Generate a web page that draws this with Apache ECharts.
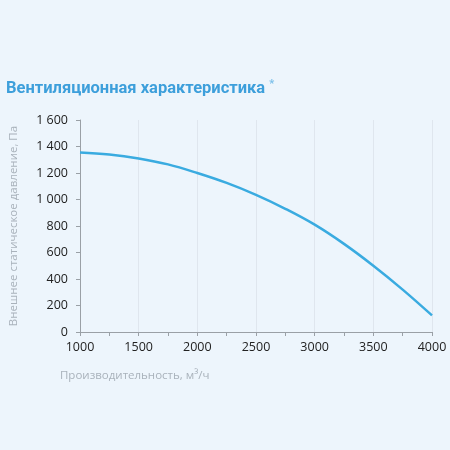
<!DOCTYPE html>
<html><head><meta charset="utf-8">
<script src="https://cdn.jsdelivr.net/npm/echarts@6/dist/echarts.min.js"></script>
<style>html,body{margin:0;padding:0;background:#edf5fc;}#c{width:450px;height:450px;}</style>
</head><body><div id="c"></div>
<script>
const flow = [1000, 1250, 1500, 1750, 2000, 2250, 2500, 2750, 3000, 3250, 3500, 3750, 4000];
const pressure = [1355, 1340, 1310, 1265, 1200, 1125, 1035, 930, 810, 665, 500, 320, 125];
const titleText = 'Вентиляционная характеристика';
const xName = 'Производительность, м³/ч';
const yName = 'Внешнее статическое давление, Па';

const chart = echarts.init(document.getElementById('c'));
chart.setOption({
  backgroundColor: '#edf5fc',
  animation: false,
  title: {
    text: titleText + ' {s|*}',
    left: 6, top: 79, padding: 0,
    textStyle: {
      fontFamily: 'Roboto', fontSize: 16.5, fontWeight: 'bold', color: '#3d9fdb',
      rich: { s: { fontSize: 11, color: '#7cc0ea', verticalAlign: 'top', padding: [0,0,8,0] } }
    }
  },
  grid: { left: 78, right: 18, top: 120, bottom: 118 },
  xAxis: {
    type: 'value', min: 1000, max: 4000, interval: 500,
    name: xName, nameLocation: 'start', nameGap: 0,
    nameTextStyle: { color: '#a9b2bb', fontSize: 11.5, fontFamily: 'Open Sans', align: 'left', verticalAlign: 'top', padding: [38, 0, 0, -20] },
    axisLine: { lineStyle: { color: '#9aa0a6' } },
    axisTick: { show: true, length: 4, lineStyle: { color: '#9aa0a6' } },
    minorTick: { show: true, splitNumber: 2, length: 4, lineStyle: { color: '#9aa0a6' } },
    axisLabel: { color: '#222', fontSize: 12.5, fontFamily: 'Open Sans', margin: 9, formatter: v => String(v) },
    splitLine: { show: true, lineStyle: { color: '#dfe6ee', width: 1 } }
  },
  yAxis: {
    type: 'value', min: 0, max: 1600, interval: 200,
    name: yName, nameLocation: 'middle', nameRotate: 90, nameGap: 60,
    nameTextStyle: { color: '#a9b2bb', fontSize: 11.5, fontFamily: 'Open Sans' },
    axisLine: { show: true, lineStyle: { color: '#9aa0a6' } },
    axisTick: { show: true, length: 4, lineStyle: { color: '#9aa0a6' } },
    axisLabel: { color: '#222', fontSize: 12.5, fontFamily: 'Open Sans', margin: 12,
      formatter: v => String(v).replace(/\B(?=(\d{3})+(?!\d))/g, ' ') },
    splitLine: { show: false }
  },
  series: [{
    type: 'line', smooth: 0.4, symbol: 'none',
    data: flow.map((x, i) => [x, pressure[i]]),
    lineStyle: { color: '#3aabe0', width: 2.5 }
  }]
});
</script></body></html>
